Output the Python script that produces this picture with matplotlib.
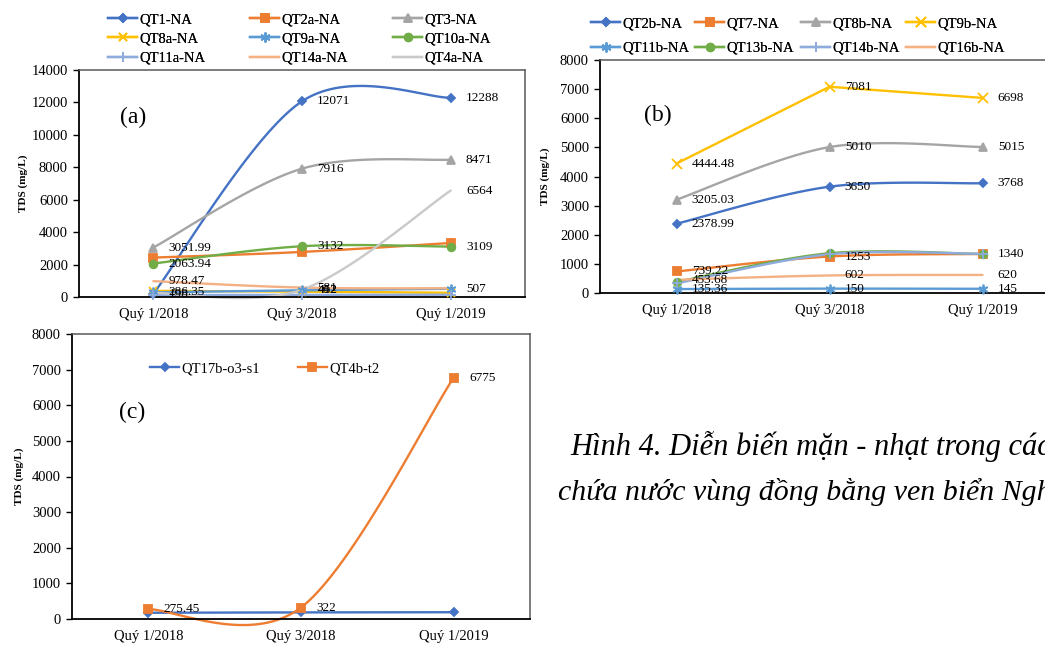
import numpy as np
import matplotlib
matplotlib.use("Agg")
import matplotlib.pyplot as plt
from matplotlib.lines import Line2D

plt.rcParams["font.family"] = ["Liberation Serif", "DejaVu Serif"]

W, H = 1045, 645

quarters = ["Quý 1/2018", "Quý 3/2018", "Quý 1/2019"]

# ---- panel (a) ----
a_names = ["QT1-NA", "QT2a-NA", "QT3-NA", "QT8a-NA", "QT9a-NA",
           "QT10a-NA", "QT11a-NA", "QT14a-NA", "QT4a-NA"]
a_qt1 = [198, 12071, 12288]
a_qt2a = [2430, 2780, 3330]
a_qt3 = [3051.99, 7916, 8471]
a_qt8a = [380, 330, 260]
a_qt9a = [286.35, 412, 507]
a_qt10a = [2063.94, 3132, 3109]
a_qt11a = [120, 130, 140]
a_qt14a = [978.47, 581, 540]
a_qt4a = [250, 452, 6564]
a_labeled = [[1, 1, 1], [0, 0, 0], [1, 1, 1], [0, 0, 0], [1, 1, 1],
             [1, 1, 1], [0, 0, 0], [1, 1, 0], [0, 1, 1]]
a_smooth = [True] * 9

# ---- panel (b) ----
b_names = ["QT2b-NA", "QT7-NA", "QT8b-NA", "QT9b-NA",
           "QT11b-NA", "QT13b-NA", "QT14b-NA", "QT16b-NA"]
b_qt2b = [2378.99, 3650, 3768]
b_qt7 = [739.22, 1253, 1340]
b_qt8b = [3205.03, 5010, 5015]
b_qt9b = [4444.48, 7081, 6698]
b_qt11b = [135.36, 150, 145]
b_qt13b = [380, 1365, 1340]
b_qt14b = [330, 1330, 1345]
b_qt16b = [453.68, 602, 620]
b_labeled = [[1, 1, 1], [1, 1, 1], [1, 1, 1], [1, 1, 1],
             [1, 1, 1], [0, 0, 0], [0, 0, 0], [1, 1, 1]]
b_smooth = [True, True, True, False, True, True, True, True]

# ---- panel (c) ----
c_names = ["QT17b-o3-s1", "QT4b-t2"]
c_qt17b = [175, 185, 190]
c_qt4b = [275.45, 322, 6775]
c_labeled = [[0, 0, 0], [1, 1, 1]]
c_smooth = [True, True]

BLUE, ORANGE, GRAY, GOLD = "#4472C4", "#ED7D31", "#A5A5A5", "#FFC000"
LTBLUE, GREEN, PERI, SALMON, LTGRAY = "#5B9BD5", "#70AD47", "#8FAADC", "#F4B183", "#C9C9C9"
ASTER = (6, 2, 0)

a_styles = [(BLUE, "D", 4.5), (ORANGE, "s", 5.5), (GRAY, "^", 6), (GOLD, "x", 6),
            (LTBLUE, ASTER, 7), (GREEN, "o", 5.5), (PERI, "+", 7),
            (SALMON, None, 0), (LTGRAY, None, 0)]
b_styles = [(BLUE, "D", 4.5), (ORANGE, "s", 5.5), (GRAY, "^", 6), (GOLD, "x", 6.5),
            (LTBLUE, ASTER, 7), (GREEN, "o", 5.5), (PERI, "+", 7), (SALMON, None, 0)]
c_styles = [(BLUE, "D", 4.5), (ORANGE, "s", 6)]

TICK_FS = 10.5
LABEL_FS = 9.5
LEG_FS = 10.5


def smooth(y, n=40):
    """Cubic Bezier smoothing through the points (Catmull-Rom style)."""
    x = np.arange(len(y), dtype=float)
    y = np.asarray(y, dtype=float)
    pts = np.column_stack([x, y])
    out = []
    for i in range(len(pts) - 1):
        p0 = pts[i]
        p3 = pts[i + 1]
        pm = pts[i - 1] if i > 0 else pts[i]
        pp = pts[i + 2] if i + 2 < len(pts) else pts[i + 1]
        c1 = p0 + (p3 - pm) / 6.0
        c2 = p3 - (pp - p0) / 6.0
        t = np.linspace(0, 1, n)[:, None]
        seg = ((1 - t) ** 3) * p0 + 3 * ((1 - t) ** 2) * t * c1 \
            + 3 * (1 - t) * t ** 2 * c2 + t ** 3 * p3
        out.append(seg if i == 0 else seg[1:])
    c = np.vstack(out)
    return c[:, 0], c[:, 1]


def fmt(v):
    return f"{v:g}"


def draw_series(ax, series, styles, labeled, smoothed):
    handles = []
    for vals, (col, mk, ms), lab, sm in zip(series, styles, labeled, smoothed):
        if sm:
            xs, ys = smooth(vals)
        else:
            xs, ys = np.arange(len(vals)), vals
        ax.plot(xs, ys, color=col, lw=1.7, solid_capstyle="round",
                clip_on=False, zorder=2)
        if mk is not None:
            ax.plot(range(len(vals)), vals, linestyle="none", marker=mk,
                    ms=ms, color=col, mec=col, mew=1.3, clip_on=False, zorder=3)
        for i, (v, flag) in enumerate(zip(vals, lab)):
            if flag:
                ax.annotate(fmt(v), (i, v), xytext=(11, 0),
                            textcoords="offset points", ha="left", va="center",
                            fontsize=LABEL_FS, color="black", zorder=4,
                            annotation_clip=False)
        handles.append(Line2D([], [], color=col, lw=1.7, marker=mk, ms=ms,
                              mec=col, mew=1.3))
    return handles


def style_axes(ax, ymax, ystep):
    ax.set_xlim(-0.5, 2.5)
    ax.set_ylim(0, ymax)
    ax.set_yticks(np.arange(0, ymax + 1, ystep))
    ax.set_xticks(range(3))
    ax.set_xticklabels(quarters)
    ax.tick_params(axis="x", length=0, pad=8, labelsize=TICK_FS)
    ax.tick_params(axis="y", direction="out", length=4, width=1, pad=4,
                   labelsize=TICK_FS)
    for s in ("left", "bottom"):
        ax.spines[s].set_color("black")
        ax.spines[s].set_linewidth(1.3)
    for s in ("top", "right"):
        ax.spines[s].set_color("#595959")
        ax.spines[s].set_linewidth(1.1)
    ax.set_ylabel("TDS (mg/L)", fontsize=8, fontweight="bold")


def add_axes_px(fig, left, top, right, bottom):
    return fig.add_axes([left / W, 1 - bottom / H, (right - left) / W,
                         (bottom - top) / H])


def column_legends(fig, handles, labels, ncol, col_x, row_y, row_pitch):
    n = len(handles)
    for c in range(ncol):
        idx = list(range(c, n, ncol))
        leg = fig.legend([handles[i] for i in idx], [labels[i] for i in idx],
                         loc="upper left",
                         bbox_to_anchor=(col_x[c] / W, 1 - row_y / H),
                         bbox_transform=fig.transFigure, frameon=False,
                         fontsize=LEG_FS, handlelength=2.0, handletextpad=0.15,
                         borderpad=0, borderaxespad=0, numpoints=1,
                         labelspacing=row_pitch)
        fig.add_artist(leg)


fig = plt.figure(figsize=(W / 100, H / 100), dpi=100)
fig.patch.set_facecolor("white")

# panel (a)
ax_a = add_axes_px(fig, 79, 70, 525, 297)
ha = draw_series(ax_a, [a_qt1, a_qt2a, a_qt3, a_qt8a, a_qt9a, a_qt10a,
                        a_qt11a, a_qt14a, a_qt4a], a_styles, a_labeled, a_smooth)
style_axes(ax_a, 14000, 2000)
ax_a.yaxis.set_label_coords(-0.115, 0.5)
ax_a.text(0.122, 0.79, "(a)", transform=ax_a.transAxes, fontsize=17,
          ha="center", va="center")
column_legends(fig, ha, a_names, 3, [108, 250, 393], 13, 0.42)

# panel (b)
ax_b = add_axes_px(fig, 600, 60, 1059, 293)
hb = draw_series(ax_b, [b_qt2b, b_qt7, b_qt8b, b_qt9b, b_qt11b, b_qt13b,
                        b_qt14b, b_qt16b], b_styles, b_labeled, b_smooth)
style_axes(ax_b, 8000, 1000)
ax_b.yaxis.set_label_coords(-0.11, 0.5)
ax_b.text(0.126, 0.76, "(b)", transform=ax_b.transAxes, fontsize=17,
          ha="center", va="center")
column_legends(fig, hb, b_names, 4, [591, 695, 801, 906], 17, 0.78)

# panel (c)
ax_c = add_axes_px(fig, 72, 334, 530, 619)
hc = draw_series(ax_c, [c_qt17b, c_qt4b], c_styles, c_labeled, c_smooth)
style_axes(ax_c, 8000, 1000)
ax_c.yaxis.set_label_coords(-0.105, 0.5)
ax_c.text(0.131, 0.725, "(c)", transform=ax_c.transAxes, fontsize=17,
          ha="center", va="center")
leg_c = fig.legend(hc, c_names, loc="upper left",
                   bbox_to_anchor=(150 / W, 1 - 362 / H),
                   bbox_transform=fig.transFigure, frameon=False, ncol=2,
                   fontsize=LEG_FS, handlelength=2.0, handletextpad=0.15,
                   columnspacing=2.6, borderpad=0, borderaxespad=0, numpoints=1)

# caption
fig.text(570 / W, 1 - 446 / H, "Hình 4. Diễn biến mặn - nhạt trong các",
         fontsize=22, style="italic", ha="left", va="center")
fig.text(558 / W, 1 - 492 / H, "chứa nước vùng đồng bằng ven biển Nghệ",
         fontsize=21.5, style="italic", ha="left", va="center")

fig.savefig("out.png", dpi=100, facecolor="white")
